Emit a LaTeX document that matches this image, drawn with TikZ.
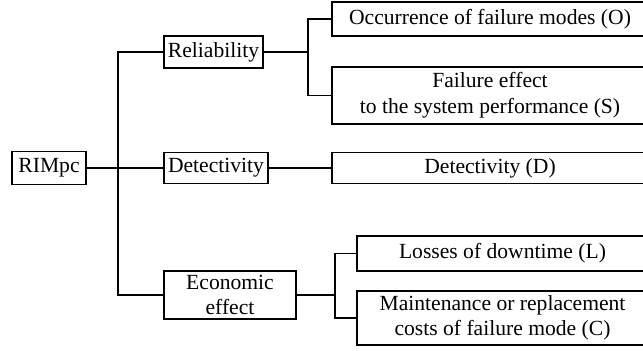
\documentclass[tikz,border=0pt]{standalone}
\usepackage{fontspec}
\setmainfont{Liberation Serif}
\usepackage{tikz}

\begin{document}
\begin{tikzpicture}[x=0.5pt, y=-0.5pt, line width=0.6pt,
                    main node/.style={rectangle,draw,inner sep=0pt,align=center,
                      font=\fontsize{10.8}{12.8}\selectfont}]

  \useasboundingbox (0,0) rectangle (643,351);

  \node[main node, minimum width=37pt, minimum height=16.5pt] (rimpc) at (49,168) {RIMpc};
  \node[main node, minimum width=49.5pt, minimum height=16pt] (rel) at (213.5,52) {Reliability};
  \node[main node, minimum width=52pt, minimum height=15.5pt] (det) at (216,168) {Detectivity};
  \node[main node, minimum width=66pt, minimum height=24pt] (econ) at (230,295) {Economic\\effect};

  \node[main node, minimum width=158pt, minimum height=17pt] (occ) at (490,19) {Occurrence of failure modes (O)};
  \node[main node, minimum width=158pt, minimum height=28.5pt] (fail) at (490,95.5) {Failure effect\\to the system performance (S)};
  \node[main node, minimum width=158pt, minimum height=15.5pt] (detd) at (490,168) {Detectivity (D)};
  \node[main node, minimum width=145.5pt, minimum height=17.5pt] (loss) at (502.5,253.5) {Losses of downtime (L)};
  \node[main node, minimum width=145.5pt, minimum height=27pt] (maint) at (502.5,318) {Maintenance or replacement\\costs of failure mode (C)};

  \coordinate (trunk) at (118,168);
  \coordinate (relfork) at (308,52);
  \coordinate (econfork) at (335,295);

  \draw (rimpc.east) -- (det.west);
  \draw (rel.west) -| (trunk) |- (econ.west);
  \draw (rel.east) -- (relfork);
  \draw (occ.west) -| (relfork) |- (fail.west);
  \draw (det.east) -- (detd.west);
  \draw (econ.east) -- (econfork);
  \draw (loss.west) -| (econfork) |- (maint.west);
\end{tikzpicture}
\end{document}
